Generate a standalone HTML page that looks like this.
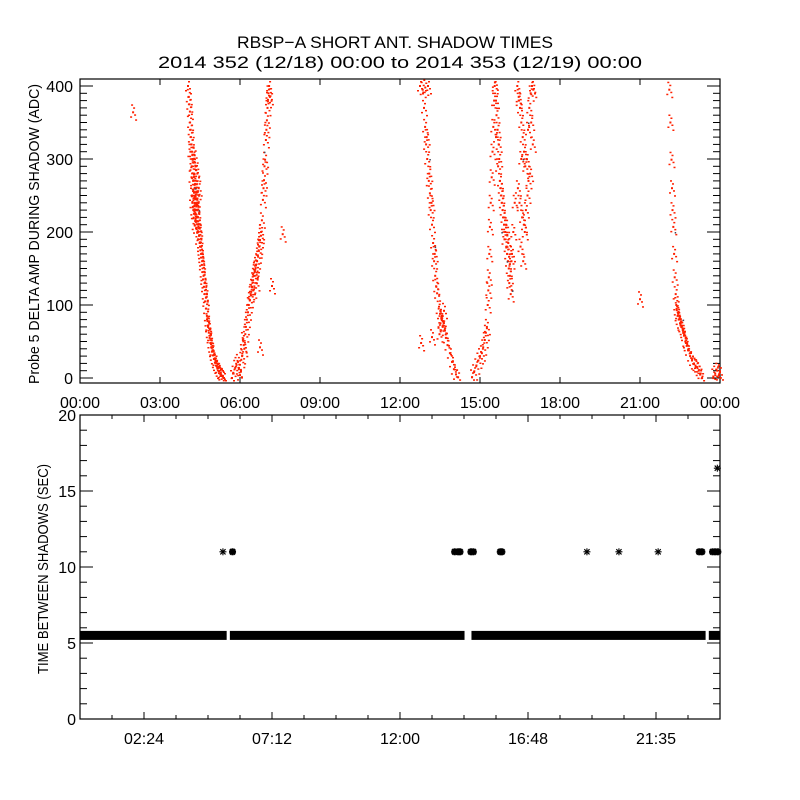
<!DOCTYPE html>
<html><head><meta charset="utf-8"><style>
html,body{margin:0;padding:0;background:#fff;}
svg{display:block;font-family:"Liberation Sans",sans-serif;}
</style></head><body>
<svg id="chart" width="800" height="800" viewBox="0 0 800 800">
<rect x="0" y="0" width="800" height="800" fill="#fff"/>
<text x="237" y="48" font-size="17" textLength="316" lengthAdjust="spacingAndGlyphs">RBSP−A SHORT ANT. SHADOW TIMES</text>
<text x="158" y="68" font-size="17" textLength="484" lengthAdjust="spacingAndGlyphs">2014 352 (12/18) 00:00 to 2014 353 (12/19) 00:00</text>
<g id="topPanel"></g>
<g id="botPanel"></g>
</svg>
<script>
// ---- top panel data (hours, ADC) ----
const ampTimes = [
4.05,4.08,4.1,4.12,4.13,4.15,4.16,4.18,4.2,4.22,4.19,4.25,4.3,4.28,4.24,4.3,4.35,4.27,4.33,4.38,4.3,4.36,4.4,4.32,4.42,4.38,4.45,4.35,4.44,4.48,4.5,4.52,4.55,4.57,4.6,4.62,4.65,4.68,4.7,4.73,4.76,4.78,4.8,4.83,4.86,4.89,4.92,4.95,4.98,5.02,5.06,5.1,5.15,5.2,5.25,5.3,5.36,5.4,
4.2,4.25,4.3,4.4,4.45,4.22,4.43,4.14,4.35,4.18,4.27,4.41,4.33,4.47,4.29,4.37,4.5,4.54,4.58,4.63,4.67,4.72,4.81,4.88,4.97,5.08,5.18,5.28,
5.7,5.76,5.82,5.87,5.92,5.96,6.0,6.05,6.11,6.16,6.2,6.26,6.3,6.37,6.42,6.49,6.55,6.6,6.64,6.67,6.72,6.75,6.79,6.82,6.86,6.9,6.94,6.97,7.01,7.05,7.09,
6.08,6.14,6.22,6.33,6.45,6.52,6.58,6.62,6.7,6.78,6.88,6.92,6.99,7.03,7.07,7.12,6.4,6.5,6.56,
1.99,7.6,7.2,6.75,
12.75,12.85,12.95,13.05,12.9,12.94,12.98,13.02,13.08,13.12,13.15,13.2,13.24,13.28,13.32,13.36,13.39,13.45,13.5,13.55,13.57,13.62,13.68,13.72,13.78,13.87,13.95,14.02,14.1,14.18,13.0,13.1,13.18,13.3,13.48,13.6,13.65,13.52,
14.7,14.78,14.86,14.94,15.0,15.07,15.12,15.18,15.22,15.26,15.29,15.31,15.33,15.35,15.37,15.4,15.44,15.47,15.5,15.53,15.56,
15.55,15.6,15.62,15.66,15.7,15.72,15.75,15.8,15.85,15.9,15.6,15.68,15.78,15.82,15.88,15.95,16.0,16.05,16.1,16.15,15.92,16.02,16.08,16.12,16.2,16.25,16.3,15.98,16.06,16.18,
16.4,16.45,16.5,16.55,16.6,16.65,16.7,16.75,16.8,16.85,16.9,16.95,17.0,16.42,16.48,16.58,16.68,16.78,16.88,16.98,16.52,16.62,16.72,16.82,16.92,16.45,16.55,16.65,
22.1,22.14,22.18,22.2,22.22,22.25,22.28,22.3,22.34,22.38,22.41,22.45,22.5,22.55,22.6,22.65,22.7,22.75,22.8,22.88,22.95,23.02,23.08,23.14,23.2,23.27,23.33,22.36,22.43,22.52,22.62,22.72,
23.75,23.82,23.9,23.96,24.0,
21.0,12.79,13.2
];
const ampValues = [
400,385,375,365,350,340,330,320,310,300,290,295,305,280,270,265,260,255,250,245,240,235,230,225,220,215,210,205,200,195,185,175,165,155,145,135,125,115,105,95,85,78,70,62,55,48,42,36,31,26,21,17,13,9,6,4,2,0,
250,230,210,280,260,240,190,310,285,275,225,255,218,205,248,238,180,170,160,140,130,110,72,58,38,24,14,7,
0,6,14,18,22,12,4,25,52,40,60,80,90,107,118,134,145,155,160,168,180,189,200,216,244,271,299,326,353,381,400,
30,45,70,100,125,140,150,130,175,195,260,290,340,370,390,385,115,120,148,
364,197,126,42,
400,395,398,400,370,344,320,300,270,253,230,210,185,160,140,125,116,95,88,82,79,72,65,55,45,34,22,12,5,1,330,280,240,170,60,70,92,75,
1,8,16,24,30,34,42,52,62,70,100,120,138,170,207,240,275,310,344,380,405,
400,380,360,340,320,300,270,250,230,210,330,290,260,240,220,200,180,160,130,115,190,170,150,140,170,200,240,210,185,160,
400,385,370,350,330,310,290,300,340,370,390,400,395,260,240,220,200,250,280,320,180,160,230,270,350,380,300,210,
395,350,299,260,230,207,170,138,115,93,85,80,75,70,66,58,50,44,38,30,24,19,17,15,10,6,0,100,88,72,62,48,
2,6,10,4,8,
108,48,56
];
const darkTimes = [4.3,4.45,6.9,13.1,13.3,15.8,16.0,16.2,16.6,16.8,22.3,22.6];
const darkValues = [260,230,310,300,180,200,160,120,300,350,200,80];

// ---- bottom panel data ----
const bandStarts = [0, 5.62, 14.68, 23.58];
const bandEnds = [5.5, 14.42, 23.46, 24];
const bandValue = 5.5;
const starTimes = [5.36,5.72,14.05,14.18,14.25,14.66,14.75,15.76,15.82,19.01,20.21,21.68,23.22,23.32,23.72,23.82,23.92,23.9];
const starValues = [11,11,11,11,11,11,11,11,11,11,11,11,11,11,11,11,11,16.5];
const starBold = [0,1,1,1,1,1,1,1,1,0,0,0,1,1,1,1,1,0];

const topTicks = ["00:00","03:00","06:00","09:00","12:00","15:00","18:00","21:00","00:00"];
const topYTicks = [0,100,200,300,400];
const botTicks = ["02:24","07:12","12:00","16:48","21:35"];
const botYTicks = [0,5,10,15,20];

const NS="http://www.w3.org/2000/svg";
function mk(parent,tag,attrs){const e=document.createElementNS(NS,tag);for(const k in attrs)e.setAttribute(k,attrs[k]);parent.appendChild(e);return e;}

const L=80,R=720;
function xT(h){return L+(h/24)*(R-L);}
const T0=79,T1=383;
function yTop(v){return 378-v*0.73;}
const B0=415,B1=719;
function yBot(v){return 719-v*15.2;}

const topG=document.getElementById('topPanel');
const botG=document.getElementById('botPanel');

let f=mk(topG,'rect',{x:L,y:T0,width:R-L,height:T1-T0,fill:'none',stroke:'#000','stroke-width':1.2});


for(let v=0;v<=400;v+=10){
  const y=yTop(v); const len=(v%100===0)?13:7;
  mk(topG,'line',{x1:L,x2:L+len,y1:y,y2:y,stroke:'#000','stroke-width':1});
  mk(topG,'line',{x1:R,x2:R-len,y1:y,y2:y,stroke:'#000','stroke-width':1});
}
topYTicks.forEach(v=>{
  const t=mk(topG,'text',{x:73,y:yTop(v)+6,'text-anchor':'end','font-size':16});
  t.textContent=v;
  
  
});
topTicks.forEach((s,i)=>{
  const x=xT(i*3);
  mk(topG,'line',{x1:x,x2:x,y1:T1,y2:T1-6,stroke:'#000'});
  mk(topG,'line',{x1:x,x2:x,y1:T0,y2:T0+6,stroke:'#000'});
  const t=mk(topG,'text',{x:x,y:408,'text-anchor':'middle','font-size':16});
  t.textContent=s;
  
  
});
let yt=mk(topG,'text',{x:0,y:0,'text-anchor':'middle','font-size':15,textLength:'300',lengthAdjust:'spacingAndGlyphs',transform:'translate(39,234) rotate(-90)'});
yt.textContent='Probe 5 DELTA AMP DURING SHADOW (ADC)';



const pts=mk(topG,'g',{fill:'#ff2000'});


const offs=[[0,0],[2,3],[-2,5],[1,-4],[-1,-7],[3,8]];
ampTimes.forEach((h,i)=>{
  const x=xT(h), y=yTop(ampValues[i]);
  if(y<T0||y>T1) return;
  const r=mk(pts,'rect',{x:(x-1).toFixed(1),y:(y-1).toFixed(1),width:2,height:2});
  
  
  offs.slice(1).forEach(o=>{
    const yy=y+o[1];
    if(yy<T0+1||yy>T1-2) return;
    mk(pts,'rect',{x:(x+o[0]-1).toFixed(1),y:(yy-1).toFixed(1),width:2,height:1.5});
  });
});
const dk=mk(topG,'g',{fill:'#445'});


darkTimes.forEach((h,i)=>{mk(dk,'rect',{x:xT(h),y:yTop(darkValues[i]),width:1.5,height:1.5});});

f=mk(botG,'rect',{x:L,y:B0,width:R-L,height:B1-B0,fill:'none',stroke:'#000','stroke-width':1.2});


for(let v=0;v<=20;v+=1){
  const y=yBot(v); const len=(v%5===0)?13:7;
  mk(botG,'line',{x1:L,x2:L+len,y1:y,y2:y,stroke:'#000'});
  mk(botG,'line',{x1:R,x2:R-len,y1:y,y2:y,stroke:'#000'});
}
botYTicks.forEach(v=>{
  const t=mk(botG,'text',{x:76,y:yBot(v)+6,'text-anchor':'end','font-size':16});
  t.textContent=v;
  
  
});
for(let k=0;k<=20;k++){
  const x=xT(k*1.2); const len=((k-2)%4===0)?7:4;
  mk(botG,'line',{x1:x,x2:x,y1:B1,y2:B1-len,stroke:'#000'});
  mk(botG,'line',{x1:x,x2:x,y1:B0,y2:B0+len,stroke:'#000'});
}
botTicks.forEach((s,i)=>{
  const t=mk(botG,'text',{x:xT(2.4+4.8*i),y:744,'text-anchor':'middle','font-size':16});
  t.textContent=s;
  
  
});
yt=mk(botG,'text',{x:0,y:0,'text-anchor':'middle','font-size':15,textLength:'210',lengthAdjust:'spacingAndGlyphs',transform:'translate(48,569) rotate(-90)'});
yt.textContent='TIME BETWEEN SHADOWS (SEC)';



bandStarts.forEach((s,i)=>{
  const x0=xT(s), x1=xT(bandEnds[i]), y=yBot(bandValue);
  const r=mk(botG,'rect',{x:x0,y:y-4.5,width:Math.max(1,x1-x0),height:9,fill:'#000'});
  
  
});
starTimes.forEach((h,i)=>{
  const x=xT(h), y=yBot(starValues[i]); const s=3.5;
  const g=mk(botG,'g',{stroke:'#000','stroke-width':starBold[i]?2.2:1.1});
  
  
  mk(g,'line',{x1:x-s,x2:x+s,y1:y,y2:y});
  mk(g,'line',{x1:x,x2:x,y1:y-s,y2:y+s});
  mk(g,'line',{x1:x-s*0.75,x2:x+s*0.75,y1:y-s*0.75,y2:y+s*0.75});
  mk(g,'line',{x1:x-s*0.75,x2:x+s*0.75,y1:y+s*0.75,y2:y-s*0.75});
});
</script>
</body></html>
